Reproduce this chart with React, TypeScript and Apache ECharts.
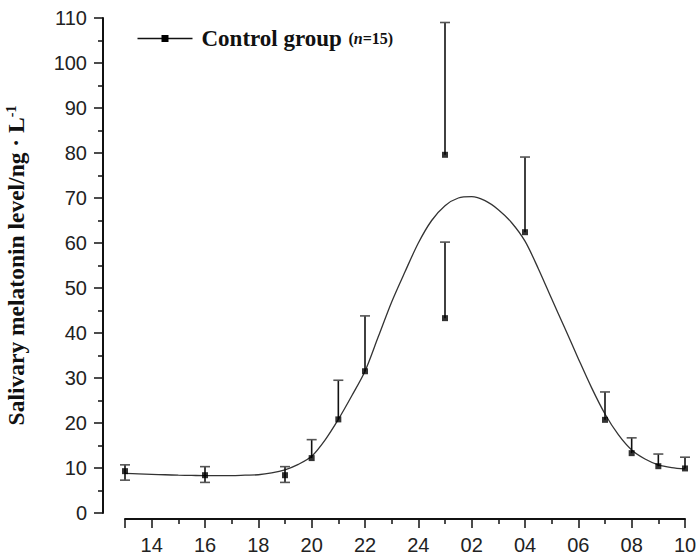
import React, { useEffect, useRef } from 'react';
import * as echarts from 'echarts';

// Sampling hours (13 = 13:00 day 1, 25 = 01:00, 34 = 10:00 next day)
const sampleHours = [13, 16, 19, 20, 21, 22, 25, 25, 28, 31, 32, 33, 34];
const meanValues = [9.3, 8.4, 8.4, 12.2, 20.8, 31.5, 43.3, 79.6, 62.4, 20.7, 13.3, 10.4, 9.9];
const upperValues = [10.7, 10.3, 10.3, 16.3, 29.5, 43.8, 60.2, 109, 79.1, 26.9, 16.7, 13.1, 12.4];
const lowerValues = [7.3, 6.8, 6.8, 12.2, 20.8, 31.5, 43.3, 79.6, 62.4, 20.7, 13.3, 10.4, 9.9];

// Fitted curve, every half hour
const fitHours = [
  13, 13.5, 14, 14.5, 15, 15.5, 16, 16.5, 17, 17.5, 18, 18.5, 19, 19.5, 20, 20.5, 21, 21.5, 22, 22.5,
  23, 23.5, 24, 24.5, 25, 25.5, 26, 26.5, 27, 27.5, 28, 28.5, 29, 29.5, 30, 30.5, 31, 31.5, 32, 32.5,
  33, 33.5, 34,
];
const fitValues = [
  8.8, 8.7, 8.6, 8.5, 8.4, 8.35, 8.3, 8.3, 8.3, 8.4, 8.5, 8.9, 9.6, 10.8, 12.6, 16.2, 20.8, 26.0, 31.5, 39.2,
  46.9, 53.6, 60.0, 65.0, 68.3, 70.0, 70.3, 69.4, 67.4, 64.5, 60.4, 54.3, 47.6, 41.0, 34.3, 27.8, 22.0, 17.4, 14.0, 12.0,
  10.7, 10.1, 9.8,
];

// x tick labels
const tickHours = [14, 16, 18, 20, 22, 24, 26, 28, 30, 32, 34];
const tickLabels = ['14', '16', '18', '20', '22', '24', '02', '04', '06', '08', '10'];

const seriesName = 'Control group';

export default function App() {
  const ref = useRef<HTMLDivElement>(null);
  useEffect(() => {
    if (!ref.current) return;
    const chart = echarts.init(ref.current, null, { renderer: 'svg' });
    const barData = sampleHours.map((h, i) => [h, lowerValues[i], upperValues[i], meanValues[i]]);
    const option: any = {
      animation: false,
      backgroundColor: '#ffffff',
      grid: { left: 125, right: 14, top: 18, bottom: 47, containLabel: false, outerBoundsMode: 'none' },
      xAxis: {
        type: 'value',
        min: 13,
        max: 34,
        splitNumber: 10,
        minInterval: 2,
        maxInterval: 2,
        offset: 6,
        axisLine: { show: true, onZero: false, lineStyle: { color: '#111', width: 2 } },
        axisTick: { show: true, length: 9, lineStyle: { color: '#111', width: 1.5 } },
        minorTick: { show: true, splitNumber: 2, length: 5, lineStyle: { color: '#111', width: 1.5 } },
        splitLine: { show: false },
        axisLabel: {
          margin: 16,
          fontFamily: 'Liberation Sans',
          fontSize: 20,
          color: '#222',
          showMinLabel: false,
          formatter: (v: number) => {
            const i = tickHours.indexOf(v);
            return i >= 0 ? tickLabels[i] : '';
          },
        },
      },
      yAxis: {
        type: 'value',
        min: 0,
        max: 110,
        interval: 10,
        offset: 22,
        axisLine: { show: true, onZero: false, lineStyle: { color: '#111', width: 2 } },
        axisTick: { show: true, length: 9, lineStyle: { color: '#111', width: 1.5 } },
        minorTick: { show: true, splitNumber: 2, length: 5, lineStyle: { color: '#111', width: 1.5 } },
        splitLine: { show: false },
        axisLabel: { margin: 16, fontFamily: 'Liberation Sans', fontSize: 20, color: '#222' },
        name: 'Salivary melatonin level/ng · L{sup|-1}',
        nameLocation: 'middle',
        nameGap: 75,
        nameTextStyle: {
          fontFamily: 'Liberation Serif',
          fontWeight: 'bold',
          fontSize: 23.5,
          color: '#111',
          rich: {
            sup: { fontFamily: 'Liberation Serif', fontWeight: 'bold', fontSize: 14, color: '#111', verticalAlign: 'top', padding: [0, 0, 10, 0] },
          },
        },
      },
      series: [
        {
          type: 'line',
          name: 'fit',
          data: fitHours.map((h, i) => [h, fitValues[i]]),
          smooth: 0.3,
          showSymbol: false,
          lineStyle: { color: '#333', width: 1.3 },
          z: 2,
        },
        {
          type: 'custom',
          name: 'error',
          data: barData,
          encode: { x: 0, y: [1, 2] },
          clip: false,
          z: 3,
          renderItem: (params: any, api: any) => {
            const x = api.value(0);
            const lo = api.value(1);
            const hi = api.value(2);
            const mean = api.value(3);
            const pHi = api.coord([x, hi]);
            const pLo = api.coord([x, lo]);
            const hw = 5;
            const children: any[] = [
              { type: 'line', shape: { x1: pLo[0], y1: pLo[1], x2: pHi[0], y2: pHi[1] }, style: { stroke: '#111', lineWidth: 1.6 } },
              { type: 'line', shape: { x1: pHi[0] - hw, y1: pHi[1], x2: pHi[0] + hw, y2: pHi[1] }, style: { stroke: '#555', lineWidth: 1.6 } },
            ];
            if (lo < mean - 0.01) {
              children.push({ type: 'line', shape: { x1: pLo[0] - hw, y1: pLo[1], x2: pLo[0] + hw, y2: pLo[1] }, style: { stroke: '#555', lineWidth: 1.6 } });
            }
            return { type: 'group', children };
          },
        },
        {
          type: 'scatter',
          name: seriesName,
          data: sampleHours.map((h, i) => [h, meanValues[i]]),
          symbol: 'rect',
          symbolSize: 6,
          itemStyle: { color: '#000' },
          z: 4,
        },
      ],
      graphic: [
        {
          type: 'group',
          left: 135,
          top: 27,
          children: [
            { type: 'line', shape: { x1: 0, y1: 12, x2: 55, y2: 12 }, style: { stroke: '#111', lineWidth: 1.3 } },
            { type: 'rect', shape: { x: 24, y: 8.5, width: 7, height: 7 }, style: { fill: '#000' } },
            {
              type: 'text',
              x: 64,
              y: 12,
              style: {
                text: '{a|' + seriesName + '}  {b|(}{c|n}{b|=15)}',
                verticalAlign: 'middle',
                rich: {
                  a: { fontFamily: 'Liberation Serif', fontWeight: 'bold', fontSize: 23, fill: '#111' },
                  b: { fontFamily: 'Liberation Serif', fontWeight: 'bold', fontSize: 16, fill: '#111' },
                  c: { fontFamily: 'Liberation Serif', fontWeight: 'bold', fontStyle: 'italic', fontSize: 16, fill: '#111' },
                },
              },
            },
          ],
        },
      ],
    };
    chart.setOption(option);
    return () => chart.dispose();
  }, []);
  return <div ref={ref} style={{ position: 'fixed', left: 0, top: 0, width: 699, height: 560, background: '#fff' }} />;
}
